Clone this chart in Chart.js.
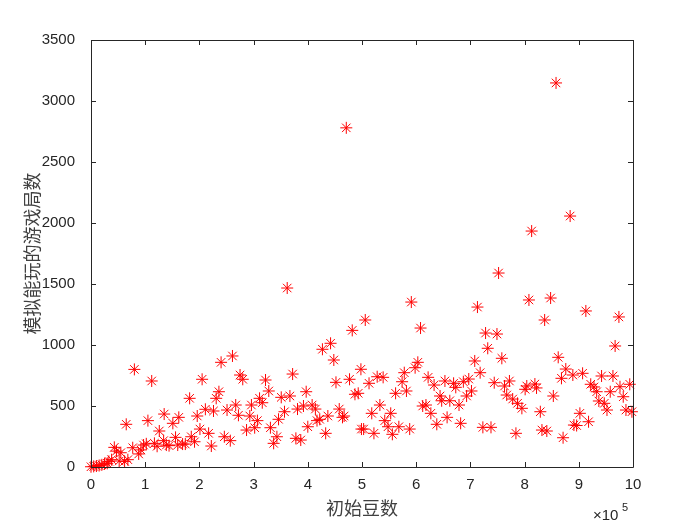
<!DOCTYPE html>
<html>
<head>
<meta charset="utf-8">
<script src="https://cdn.jsdelivr.net/npm/chart.js@4"></script>
<style>
  body { margin: 0; background: #fff; }
  canvas { display: block; }
</style>
</head>
<body>
<canvas id="scatterChart" width="700" height="525"></canvas>
<script>
// 初始豆数 (x) and 模拟能玩的游戏局数 (y)
const startBeans = [
  0, 5000, 10000, 15000, 20000, 25000, 30000, 33000, 38000, 43000, 47000, 52000, 55000, 62000, 65000, 68000, 77000, 80000, 88000, 92000,
  97000, 102000, 105000, 112000, 117000, 122000, 126000, 134000, 135000, 139000, 144000, 151000, 156000, 160000, 162000, 169000, 174000, 182000, 185000, 191000,
  196000, 201000, 205000, 211000, 217000, 222000, 226000, 231000, 236000, 240000, 246000, 251000, 257000, 261000, 267000, 272000, 275000, 280000, 287000, 293000,
  296000, 302000, 307000, 311000, 316000, 322000, 328000, 331000, 337000, 343000, 346000, 351000, 357000, 362000, 367000, 372000, 378000, 381000, 387000, 392000,
  397000, 400000, 408000, 414000, 417000, 422000, 427000, 433000, 437000, 442000, 448000, 452000, 458000, 464000, 467000, 471000, 477000, 482000, 487000, 493000,
  498000, 499000, 503000, 506000, 513000, 518000, 522000, 528000, 533000, 539000, 542000, 548000, 553000, 556000, 562000, 568000, 574000, 578000, 582000, 588000,
  591000, 598000, 603000, 608000, 612000, 618000, 622000, 627000, 633000, 638000, 644000, 647000, 653000, 657000, 662000, 669000, 673000, 679000, 682000, 687000,
  693000, 697000, 702000, 708000, 713000, 718000, 723000, 728000, 732000, 738000, 744000, 749000, 752000, 758000, 763000, 767000, 772000, 778000, 784000, 787000,
  795000, 801000, 804000, 808000, 813000, 819000, 822000, 829000, 832000, 837000, 841000, 848000, 853000, 858000, 862000, 868000, 871000, 876000, 884000, 889000,
  891000, 896000, 902000, 907000, 913000, 918000, 922000, 928000, 933000, 937000, 942000, 947000, 952000, 958000, 963000, 967000, 974000, 976000, 982000, 987000,
  994000, 998000
];
const gamesPlayed = [
  2, 5, 8, 12, 18, 25, 30, 46, 60, 161, 130, 49, 117, 46, 350, 60, 158, 800, 107, 140,
  180, 190, 380, 705, 194, 170, 295, 216, 434, 180, 175, 358, 243, 180, 407, 188, 188, 563, 248, 207,
  418, 311, 719, 473, 276, 172, 459, 563, 617, 858, 248, 467, 216, 910, 508, 424, 754, 719, 303, 418,
  508, 322, 380, 563, 527, 713, 623, 322, 194, 248, 391, 571, 453, 1467, 582, 762, 235, 475, 221, 500,
  617, 330, 508, 475, 380, 391, 965, 276, 418, 1014, 877, 694, 475, 407, 418, 2780, 719, 1120, 596, 604,
  801, 311, 311, 1205, 686, 440, 276, 740, 508, 735, 380, 330, 440, 268, 604, 330, 699, 773, 623, 311,
  1352, 814, 858, 1139, 500, 508, 735, 440, 672, 350, 582, 543, 705, 407, 543, 686, 653, 508, 358, 699,
  582, 721, 623, 869, 1311, 773, 325, 1098, 973, 325, 691, 1090, 1590, 891, 664, 590, 705, 557, 276, 522,
  481, 637, 664, 1369, 1934, 680, 648, 453, 303, 1205, 295, 1385, 582, 3148, 899, 727, 240, 803, 2057, 754,
  344, 340, 440, 768, 1279, 371, 678, 656, 617, 541, 746, 522, 467, 617, 746, 992, 1230, 658, 576, 467,
  678, 453
];
const xTicks = [0, 100000, 200000, 300000, 400000, 500000, 600000, 700000, 800000, 900000, 1000000];
const yTicks = [0, 500, 1000, 1500, 2000, 2500, 3000, 3500];

const axisColor = '#262626';
const tickFont = { family: 'Liberation Sans, Arial, sans-serif', size: 15 };
const cjkFont = { family: '"Noto Sans CJK SC", sans-serif', size: 18 };

// MATLAB style box with inward ticks on all four sides, plus the x10^5 multiplier
const boxPlugin = {
  id: 'boxPlugin',
  afterDatasetsDraw(chart) {
    const ctx = chart.ctx;
    const { left, right, top, bottom } = chart.chartArea;
    const xs = chart.scales.x, ys = chart.scales.y;
    ctx.save();
    ctx.strokeStyle = axisColor;
    ctx.lineWidth = 1;
    ctx.beginPath();
    ctx.rect(Math.round(left) + 0.5, Math.round(top) + 0.5, Math.round(right - left), Math.round(bottom - top));
    xTicks.forEach(v => {
      const px = Math.round(xs.getPixelForValue(v)) + 0.5;
      ctx.moveTo(px, bottom); ctx.lineTo(px, bottom - 5);
      ctx.moveTo(px, top); ctx.lineTo(px, top + 5);
    });
    yTicks.forEach(v => {
      const py = Math.round(ys.getPixelForValue(v)) + 0.5;
      ctx.moveTo(left, py); ctx.lineTo(left + 5, py);
      ctx.moveTo(right, py); ctx.lineTo(right - 5, py);
    });
    ctx.stroke();

    ctx.fillStyle = axisColor;
    ctx.textBaseline = 'alphabetic';
    ctx.textAlign = 'left';
    ctx.font = '15px Liberation Sans, Arial, sans-serif';
    ctx.fillText('\u00d710', 593, 520);
    ctx.font = '11px Liberation Sans, Arial, sans-serif';
    ctx.fillText('5', 622, 511);
    ctx.restore();
  }
};

const ctx = document.getElementById('scatterChart').getContext('2d');
const myChart = new Chart(ctx, {
  type: 'scatter',
  data: {
    datasets: [{
      data: startBeans.map((x, i) => ({ x: x, y: gamesPlayed[i] })),
      pointStyle: 'star',
      pointRadius: 6,
      pointBorderWidth: 1,
      borderColor: '#ff0000',
      backgroundColor: '#ff0000',
      clip: false
    }]
  },
  options: {
    responsive: false,
    animation: false,
    events: [],
    layout: { padding: { left: 13, right: 67, top: 40, bottom: 4 } },
    plugins: {
      legend: { display: false },
      tooltip: { enabled: false }
    },
    scales: {
      x: {
        type: 'linear',
        min: 0,
        max: 1000000,
        grid: { display: false },
        border: { display: false },
        afterBuildTicks: scale => { scale.ticks = xTicks.map(v => ({ value: v })); },
        afterFit: scale => { scale.height = 54; },
        ticks: {
          color: axisColor,
          font: tickFont,
          padding: 1,
          maxRotation: 0,
          callback: v => String(v / 100000)
        },
        title: {
          display: true,
          text: '初始豆数',
          color: '#404040',
          font: cjkFont,
          padding: { top: 0, bottom: 2 }
        }
      },
      y: {
        min: 0,
        max: 3500,
        grid: { display: false },
        border: { display: false },
        afterBuildTicks: scale => { scale.ticks = yTicks.map(v => ({ value: v })); },
        afterFit: scale => { scale.width = 78; },
        ticks: {
          color: axisColor,
          font: tickFont,
          padding: 8,
          callback: v => String(v)
        },
        title: {
          display: true,
          text: '模拟能玩的游戏局数',
          color: '#404040',
          font: cjkFont,
          padding: { top: 8, bottom: 0 }
        }
      }
    }
  },
  plugins: [boxPlugin]
});
</script>
</body>
</html>
